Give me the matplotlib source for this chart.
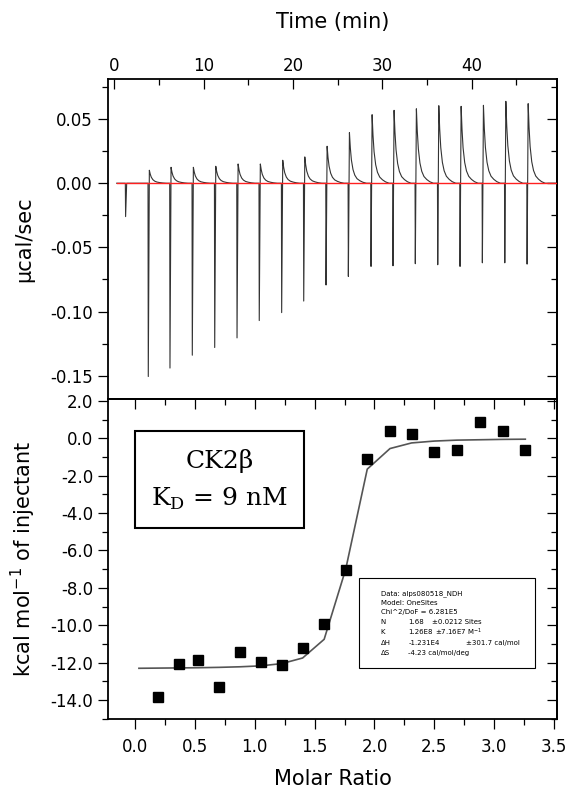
import numpy as np
import matplotlib.pyplot as plt
from matplotlib.patches import Rectangle
from matplotlib.ticker import MultipleLocator, FormatStrFormatter

# ITC titration of CK2beta: raw thermogram (top) and integrated heats (bottom)

plt.rcParams["font.family"] = ["DejaVu Sans"]
plt.rcParams["axes.unicode_minus"] = False

# --- raw data ---
inj_time = [1.25, 3.79, 6.22, 8.72, 11.23, 13.73, 16.22, 18.73, 21.20, 23.70,
            26.20, 28.74, 31.20, 33.70, 36.21, 38.71, 41.21, 43.72, 46.22]   # min
inj_neg = [-0.026, -0.1506, -0.144, -0.134, -0.128, -0.1205, -0.107, -0.1008,
           -0.0918, -0.0793, -0.0726, -0.0648, -0.0643, -0.0627, -0.0635,
           -0.0648, -0.062, -0.062, -0.063]                                  # ucal/sec
inj_pos = [0.0, 0.0101, 0.0124, 0.0124, 0.0132, 0.015, 0.015, 0.0179, 0.0205,
           0.0288, 0.0394, 0.0534, 0.0568, 0.058, 0.0604, 0.0599, 0.0607,
           0.0638, 0.062]                                                    # ucal/sec
# tail after each peak: minutes after peak / fraction of peak left
tail_dt = [0.0, 0.1, 0.22, 0.4, 0.6, 0.85, 1.16, 1.5, 1.9]
tail_frac = [1.0, 0.7, 0.46, 0.27, 0.16, 0.09, 0.05, 0.02, 0.0]
trace_start = 0.25
trace_end = 49.5

# --- integrated heats ---
molar_ratio = [0.194, 0.365, 0.53, 0.704, 0.877, 1.05, 1.226, 1.40, 1.58,
               1.76, 1.94, 2.13, 2.31, 2.50, 2.69, 2.88, 3.07, 3.26]
heat = [-13.85, -12.05, -11.84, -13.30, -11.44, -11.95, -12.12, -11.23, -9.91,
        -7.04, -1.11, 0.37, 0.25, -0.75, -0.63, 0.87, 0.37, -0.63]          # kcal/mol
fit_ratio = [0.033] + molar_ratio
fit_heat = [-12.30, -12.29, -12.28, -12.27, -12.25, -12.22, -12.17, -12.05,
            -11.75, -10.75, -7.0, -1.65, -0.55, -0.25, -0.15, -0.10, -0.08,
            -0.06, -0.05]

fit_header = ["Data: alps080518_NDH", "Model: OneSites", "Chi^2/DoF = 6.281E5"]
fit_names = ["N", "K", "\u0394H", "\u0394S"]
fit_values = ["1.68", "1.26E8", "-1.231E4", "-4.23 cal/mol/deg"]
fit_errors = ["\u00b10.0212 Sites", "\u00b17.16E7 M$^{\\mathregular{-1}}$", "\u00b1301.7 cal/mol", ""]

# build the thermogram line from the peak list
t_trace = [trace_start]
p_trace = [0.0]
for t, lo, hi in zip(inj_time, inj_neg, inj_pos):
    t_trace += [t - 0.03, t]
    p_trace += [0.0, lo]
    for dt, f in zip(tail_dt, tail_frac):
        t_trace.append(t + 0.12 + dt)
        p_trace.append(hi * f)
t_trace.append(trace_end)
p_trace.append(0.0)

fig = plt.figure(figsize=(5.69, 7.94), dpi=100)
ax1 = fig.add_axes([0.1903, 0.4975, 0.7891, 0.4030])
ax2 = fig.add_axes([0.1903, 0.0945, 0.7891, 0.4030])

tick_font = 12
label_font = 15

# top panel
ax1.plot(t_trace, p_trace, color="#333333", lw=0.8)
ax1.plot([trace_start, trace_end], [0, 0], color="#ff2020", lw=1.0, zorder=3)
ax1.set_xlim(-0.69, 49.6)
ax1.set_ylim(-0.1681, 0.0812)
ax1.xaxis.tick_top()
ax1.xaxis.set_major_locator(MultipleLocator(10))
ax1.xaxis.set_minor_locator(MultipleLocator(5))
ax1.yaxis.set_major_locator(MultipleLocator(0.05))
ax1.yaxis.set_minor_locator(MultipleLocator(0.025))
ax1.yaxis.set_major_formatter(FormatStrFormatter("%.2f"))
ax1.tick_params(axis="x", which="both", direction="in", top=True, bottom=False,
                labeltop=True, labelbottom=False, pad=3)
ax1.tick_params(axis="y", which="both", direction="out", left=True, right=False, pad=4)
sec1 = ax1.secondary_yaxis("right")
sec1.yaxis.set_major_locator(MultipleLocator(0.05))
sec1.yaxis.set_minor_locator(MultipleLocator(0.025))
sec1.tick_params(which="both", direction="in", labelright=False)

ax1.set_xlabel("Time (min)", fontsize=label_font)
ax1.xaxis.set_label_position("top")
ax1.xaxis.set_label_coords(0.5, 1.179)
ax1.xaxis.label.set_va("center")
ax1.set_ylabel("\u00b5cal/sec", fontsize=label_font)
ax1.yaxis.set_label_coords(-0.188, 0.5)
ax1.yaxis.label.set_va("center")

# bottom panel
ax2.plot(fit_ratio, fit_heat, color="#555555", lw=1.2)
ax2.plot(molar_ratio, heat, "s", color="black", ms=6.5)
ax2.set_xlim(-0.223, 3.527)
ax2.set_ylim(-15.01, 2.10)
ax2.xaxis.set_major_locator(MultipleLocator(0.5))
ax2.xaxis.set_minor_locator(MultipleLocator(0.25))
ax2.xaxis.set_major_formatter(FormatStrFormatter("%.1f"))
ax2.yaxis.set_major_locator(MultipleLocator(2))
ax2.yaxis.set_minor_locator(MultipleLocator(1))
ax2.yaxis.set_major_formatter(FormatStrFormatter("%.1f"))
ax2.tick_params(axis="x", which="both", direction="out", top=False, bottom=True, pad=7)
ax2.tick_params(axis="y", which="both", direction="out", left=True, right=False, pad=4)
sec2x = ax2.secondary_xaxis("top")
sec2x.xaxis.set_major_locator(MultipleLocator(0.5))
sec2x.xaxis.set_minor_locator(MultipleLocator(0.25))
sec2x.tick_params(which="both", direction="in", labeltop=False)
sec2y = ax2.secondary_yaxis("right")
sec2y.yaxis.set_major_locator(MultipleLocator(2))
sec2y.yaxis.set_minor_locator(MultipleLocator(1))
sec2y.tick_params(which="both", direction="in", labelright=False)

ax2.set_xlabel("Molar Ratio", fontsize=label_font)
ax2.xaxis.set_label_coords(0.5, -0.1875)
ax2.xaxis.label.set_va("center")
ax2.set_ylabel("kcal mol$^{\\mathregular{-1}}$ of injectant", fontsize=label_font)
ax2.yaxis.set_label_coords(-0.188, 0.5)
ax2.yaxis.label.set_va("center")

# CK2beta label box
ax2.add_patch(Rectangle((0.0595, 0.597), 0.3765, 0.303, transform=ax2.transAxes,
                        fill=False, lw=1.5, color="black"))
ax2.text(0.248, 0.806, "CK2\u03b2", transform=ax2.transAxes, ha="center",
         va="center", fontsize=18, family="DejaVu Serif")
ax2.text(0.248, 0.6875, "K$_{\\mathregular{D}}$ = 9 nM", transform=ax2.transAxes,
         ha="center", va="center", fontsize=18, family="DejaVu Serif")

# fit results box
ax2.add_patch(Rectangle((0.558, 0.159), 0.392, 0.2816, transform=ax2.transAxes,
                        fill=False, lw=0.8, color="black"))
row_y = [0.393, 0.3634, 0.3334, 0.3031, 0.271, 0.2384, 0.207]
err_x = [0.722, 0.728, 0.797, 0.797]
for i, line in enumerate(fit_header):
    ax2.text(0.607, row_y[i], line, transform=ax2.transAxes, fontsize=5, va="center")
for j in range(4):
    y = row_y[3 + j]
    ax2.text(0.607, y, fit_names[j], transform=ax2.transAxes, fontsize=5, va="center")
    ax2.text(0.668, y, fit_values[j], transform=ax2.transAxes, fontsize=5, va="center")
    ax2.text(err_x[j], y, fit_errors[j], transform=ax2.transAxes, fontsize=5, va="center")

for ax in [ax1, ax2]:
    for s in ax.spines.values():
        s.set_linewidth(1.3)
    ax.tick_params(which="major", length=7, width=0.9, labelsize=tick_font)
    ax.tick_params(which="minor", length=4, width=0.9)
for sec in [sec1, sec2x, sec2y]:
    sec.spines[:].set_linewidth(1.3)
    sec.tick_params(which="major", length=7, width=0.9)
    sec.tick_params(which="minor", length=4, width=0.9)

fig.savefig("out.png", dpi=100)
